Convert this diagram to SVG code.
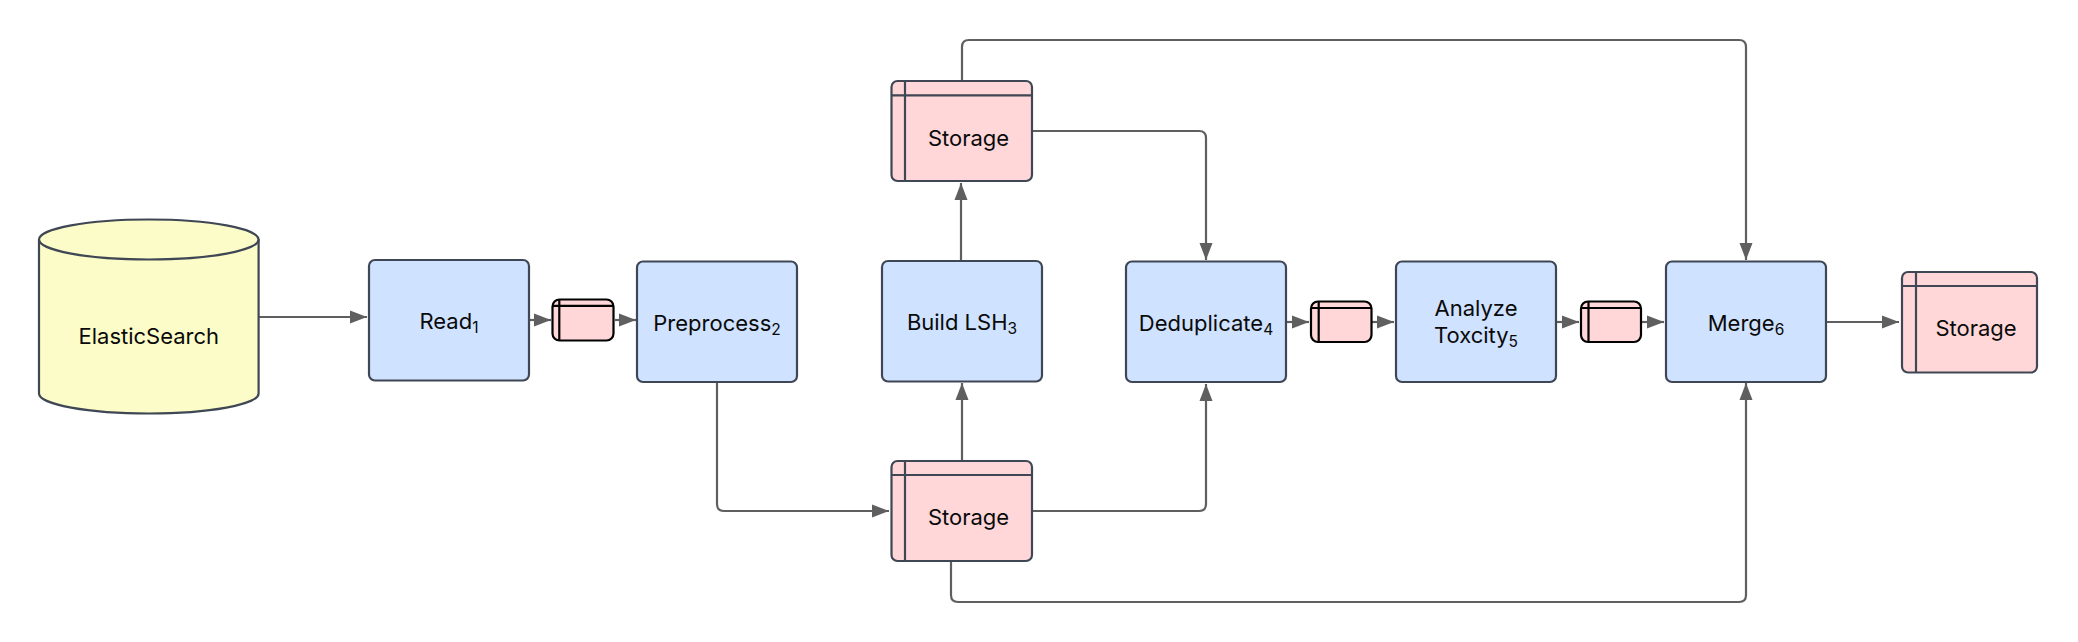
<svg xmlns="http://www.w3.org/2000/svg" width="2078" height="642" viewBox="0 0 2078 642">
<style>
text{font-family:Inter,"Noto Sans","Liberation Sans",sans-serif;font-size:22px;fill:#0a0a0a;text-anchor:middle}
.sub{font-size:15.500px}
.proc{fill:#cfe2ff;stroke:#3f4654;stroke-width:2.200}
.store{fill:#ffd7d9;stroke:#3f4654;stroke-width:2.200}
.div{fill:none;stroke:#3f4654;stroke-width:2.200}
.mini{fill:#ffd7d9;stroke:#000;stroke-width:2.200}
.minidiv{fill:none;stroke:#000;stroke-width:2.200}
.cyl{fill:#fcfcc8;stroke:#3f4654;stroke-width:2.200}
.edge{fill:none;stroke:#5f5f5f;stroke-width:2.200;marker-end:url(#arrow)}
</style>
<defs>
<marker id="arrow" markerUnits="userSpaceOnUse" markerWidth="18" markerHeight="14" refX="17" refY="7" orient="auto">
<path d="M0 0.500L17 7L0 13.500Z" fill="#5f5f5f"/>
</marker>
</defs>
<rect width="2078" height="642" fill="#ffffff"/>
<g id="connectors">
<path class="edge" d="M259 317H367"/>
<path class="edge" d="M530 320H551"/>
<path class="edge" d="M615 320H636"/>
<path class="edge" d="M717 382V504Q717 511 724 511H889"/>
<path class="edge" d="M962 460V383"/>
<path class="edge" d="M961 261V183"/>
<path class="edge" d="M1033 511H1199Q1206 511 1206 504V384"/>
<path class="edge" d="M1033 131H1199Q1206 131 1206 138V260"/>
<path class="edge" d="M962 81V47Q962 40 969 40H1739Q1746 40 1746 47V260"/>
<path class="edge" d="M951 561V595Q951 602 958 602H1739Q1746 602 1746 595V383"/>
<path class="edge" d="M1287 322H1309"/>
<path class="edge" d="M1372 322H1394"/>
<path class="edge" d="M1557 322H1579"/>
<path class="edge" d="M1641 322H1664"/>
<path class="edge" d="M1826 322H1899"/>
</g>
<g id="elasticsearch">
<path class="cyl" d="M39 239.500A109.800 20 0 0 1 258.600 239.500V393.500A109.800 20 0 0 1 39 393.500Z"/>
<path class="div" d="M39 239.500A109.800 20 0 0 0 258.600 239.500"/>
<text x="148.800" y="344">ElasticSearch</text>
</g>
<g id="read">
<rect class="proc" x="369" y="260" width="160" height="120.500" rx="6"/>
<text x="449" y="329">Read<tspan class="sub" dy="4">1</tspan></text>
</g>
<g id="store-a">
<rect class="mini" x="552.500" y="299.500" width="61" height="41" rx="7"/>
<path class="minidiv" d="M552.500 305.800H613.500M559.300 299.500V340.500"/>
</g>
<g id="preprocess">
<rect class="proc" x="637" y="261.500" width="160" height="120.500" rx="6"/>
<text x="717" y="331">Preprocess<tspan class="sub" dy="4">2</tspan></text>
</g>
<g id="build-lsh">
<rect class="proc" x="882" y="261" width="160" height="120.500" rx="6"/>
<text x="962" y="330">Build LSH<tspan class="sub" dy="4">3</tspan></text>
</g>
<g id="storage-top">
<rect class="store" x="891.500" y="81" width="140.500" height="100" rx="6"/>
<path class="div" d="M891.500 95.300H1032M905 81V181"/>
<text x="968.500" y="146">Storage</text>
</g>
<g id="storage-bottom">
<rect class="store" x="891.500" y="461" width="140.500" height="100" rx="6"/>
<path class="div" d="M891.500 475H1032M905 461V561"/>
<text x="968.500" y="525">Storage</text>
</g>
<g id="deduplicate">
<rect class="proc" x="1126" y="261.500" width="160" height="120.500" rx="6"/>
<text x="1206" y="331">Deduplicate<tspan class="sub" dy="4">4</tspan></text>
</g>
<g id="store-b">
<rect class="mini" x="1311" y="301.500" width="60.500" height="40.500" rx="7"/>
<path class="minidiv" d="M1311 308H1371.500M1318.700 301.500V342"/>
</g>
<g id="analyze">
<rect class="proc" x="1396" y="261.500" width="160" height="120.500" rx="6"/>
<text x="1476" y="316">Analyze</text>
<text x="1476" y="343">Toxcity<tspan class="sub" dy="4">5</tspan></text>
</g>
<g id="store-c">
<rect class="mini" x="1581" y="301.500" width="60" height="40.500" rx="7"/>
<path class="minidiv" d="M1581 308H1641M1588.500 301.500V342"/>
</g>
<g id="merge">
<rect class="proc" x="1666" y="261.500" width="160" height="120.500" rx="6"/>
<text x="1746" y="331">Merge<tspan class="sub" dy="4">6</tspan></text>
</g>
<g id="storage-out">
<rect class="store" x="1902" y="272" width="135" height="100.500" rx="6"/>
<path class="div" d="M1902 286H2037M1916 272V372.500"/>
<text x="1976" y="336">Storage</text>
</g>
</svg>
